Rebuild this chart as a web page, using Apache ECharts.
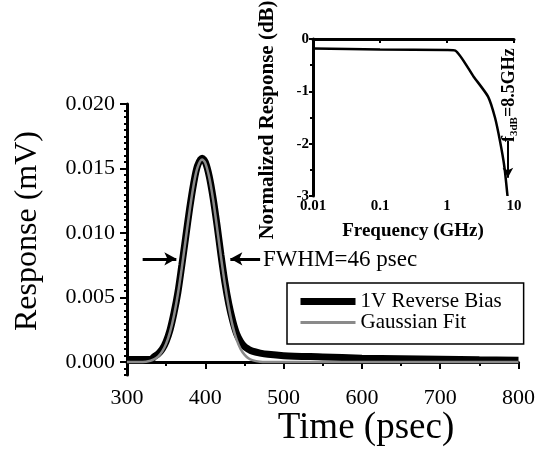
<!DOCTYPE html>
<html>
<head>
<meta charset="utf-8">
<script src="https://cdn.jsdelivr.net/npm/echarts@6/dist/echarts.min.js"></script>
</head>
<body style="margin:0;background:#fff;">
<div id="container" style="width:538px;height:449px;"></div>
<script type="text/javascript">
// main pulse: measured response (1V reverse bias)
var timePs = [300, 310, 320, 330, 335, 340, 345, 350, 355, 360, 365, 370, 375, 380, 385, 390, 396,
    400, 405, 410, 415, 420, 425, 430, 435, 440, 445, 450, 455, 460, 470, 480, 500, 550, 600, 650, 700, 750, 800];
var responseMv = [0.0002, 0.0002, 0.0002, 0.0002, 0.00043, 0.00065, 0.001, 0.0016, 0.0025, 0.0038, 0.0054, 0.0075,
    0.0097, 0.0119, 0.0138, 0.0152, 0.0158, 0.0155, 0.0144, 0.0127, 0.0106, 0.0083, 0.0062, 0.0045, 0.0032,
    0.0022, 0.0016, 0.0012, 0.0010, 0.00085, 0.0007, 0.0006, 0.0005, 0.0004, 0.0003, 0.00026, 0.00022, 0.00018, 0.00015];
// gaussian fit
var fitTimePs = [300, 320, 330, 335, 340, 345, 350, 355, 360, 365, 370, 375, 380, 385, 390, 396, 400, 405,
    410, 415, 420, 425, 430, 435, 440, 445, 450, 455, 460, 470, 480, 500, 600, 800];
var fitMv = [0, 0.00001, 0.00011, 0.00023, 0.00045, 0.00083, 0.00143, 0.00234, 0.00361, 0.00528, 0.0073,
    0.00953, 0.01174, 0.01369, 0.01507, 0.0157, 0.01542, 0.01432, 0.01258, 0.01042, 0.00816, 0.00604,
    0.00424, 0.00279, 0.00174, 0.00103, 0.00058, 0.0003, 0.00015, 0.00003, 0.00001, 0, 0, 0];
// inset: frequency response
var freqGHz = [0.01, 0.1, 1, 1.33, 2.5, 4.1, 5.2, 6.2, 7.2, 8.0];
var normDb = [-0.18, -0.2, -0.21, -0.22, -0.72, -1.1, -1.5, -1.96, -2.45, -3.0];
var mainYTicks = [0, 0.005, 0.01, 0.015, 0.02];

function pairs(xs, ys) {
    var out = [];
    for (var i = 0; i < xs.length; i++) {
        out.push([xs[i], ys[i]]);
    }
    return out;
}

var serif = 'Liberation Serif';
var black = '#000';
var gray = '#8a8a8a';

var myChart = echarts.init(document.getElementById('container'));
var option = {
    animation: false,
    backgroundColor: '#fff',
    grid: [
        { left: 127, right: 19, top: 104, bottom: 74 },
        { left: 313, right: 24, top: 39, bottom: 253 }
    ],
    legend: {
        orient: 'vertical',
        left: 287,
        top: 283,
        padding: [8, 22, 11, 10],
        itemGap: 0,
        itemWidth: 55,
        itemHeight: 14,
        borderColor: black,
        borderWidth: 1.5,
        borderRadius: 0,
        textStyle: { fontFamily: serif, fontSize: 21, color: black, lineHeight: 19 },
        data: [
            { name: '1V Reverse Bias', itemStyle: { opacity: 0 }, lineStyle: { width: 7, color: black } },
            { name: 'Gaussian Fit', itemStyle: { opacity: 0 }, lineStyle: { width: 3, color: gray } }
        ]
    },
    xAxis: [
        {
            gridIndex: 0, type: 'value', min: 300, max: 800, interval: 100,
            axisLine: { show: true, lineStyle: { color: black, width: 3 } },
            axisTick: { show: true, length: 7, lineStyle: { width: 2, color: black } },
            minorTick: { show: true, splitNumber: 2, length: 4, lineStyle: { width: 2, color: black } },
            splitLine: { show: false },
            axisLabel: { fontFamily: serif, fontSize: 22, color: black, margin: 12 }
        },
        {
            gridIndex: 1, type: 'log', logBase: 10, min: 0.01, max: 10,
            axisLine: { show: true, lineStyle: { color: black, width: 3 } },
            axisTick: { show: true, length: 4, lineStyle: { width: 2, color: black } },
            minorTick: { show: true, splitNumber: 5, length: 2, lineStyle: { width: 1, color: black } },
            splitLine: { show: false },
            axisLabel: {
                fontFamily: serif, fontWeight: 'bold', fontSize: 15, color: black, margin: 3,
                formatter: function (v) { return String(v); }
            }
        }
    ],
    yAxis: [
        {
            gridIndex: 0, type: 'value', min: -0.001, max: 0.02,
            axisLine: { show: true, lineStyle: { color: black, width: 3 } },
            axisTick: { show: true, customValues: mainYTicks, length: 7, lineStyle: { width: 2, color: black } },
            splitLine: { show: false },
            axisLabel: {
                customValues: mainYTicks,
                fontFamily: serif, fontSize: 22, color: black, margin: 12,
                formatter: function (v) { return v.toFixed(3); }
            }
        },
        {
            gridIndex: 0, type: 'value', min: -0.001, max: 0.02, interval: 0.0005, position: 'left',
            axisLine: { show: false },
            axisTick: { show: true, length: 3, lineStyle: { width: 2, color: black } },
            splitLine: { show: false },
            axisLabel: { show: false }
        },
        {
            gridIndex: 1, type: 'value', min: -3, max: 0, interval: 1,
            axisLine: { show: true, lineStyle: { color: black, width: 3 } },
            axisTick: { show: true, length: 4, lineStyle: { width: 2, color: black } },
            minorTick: { show: true, splitNumber: 2, length: 3, lineStyle: { width: 2, color: black } },
            splitLine: { show: false },
            axisLabel: { fontFamily: serif, fontWeight: 'bold', fontSize: 15, color: black, margin: 4 }
        }
    ],
    series: [
        {
            name: '1V Reverse Bias', type: 'line', xAxisIndex: 0, yAxisIndex: 0,
            data: pairs(timePs, responseMv), symbol: 'none', smooth: 0.3,
            itemStyle: { color: black },
            lineStyle: { color: black, width: 7 },
            markLine: {
                silent: true,
                symbol: ['none', 'arrow'],
                symbolSize: [10, 12],
                lineStyle: { color: black, width: 3, type: 'solid' },
                label: { show: false },
                data: [
                    [{ coord: [320, 0.008] }, { coord: [363, 0.008] }],
                    [{ coord: [470, 0.008] }, { coord: [432, 0.008] }]
                ]
            }
        },
        {
            name: 'Gaussian Fit', type: 'line', xAxisIndex: 0, yAxisIndex: 0,
            data: pairs(fitTimePs, fitMv), symbol: 'none', smooth: 0.3,
            itemStyle: { color: gray },
            lineStyle: { color: gray, width: 2.5 }
        },
        {
            name: 'inset', type: 'line', xAxisIndex: 1, yAxisIndex: 2,
            data: pairs(freqGHz, normDb), symbol: 'none', smooth: 0.2,
            itemStyle: { color: black },
            lineStyle: { color: black, width: 2.5 },
            markLine: {
                silent: true,
                symbol: ['none', 'arrow'],
                symbolSize: [8, 10],
                lineStyle: { color: black, width: 2, type: 'solid' },
                label: { show: false },
                data: [[{ coord: [8.1, -1.95] }, { coord: [8.1, -2.65] }]]
            }
        }
    ],
    graphic: [
        {
            type: 'text', x: 28, y: 231, rotation: Math.PI / 2,
            style: { text: 'Response (mV)', fontFamily: serif, fontSize: 32, fill: black, align: 'center', verticalAlign: 'middle' }
        },
        {
            type: 'text', x: 366, y: 428,
            style: { text: 'Time (psec)', fontFamily: serif, fontSize: 37, fill: black, align: 'center', verticalAlign: 'middle' }
        },
        {
            type: 'text', x: 263, y: 260,
            style: { text: 'FWHM=46 psec', fontFamily: serif, fontSize: 23, fill: black, align: 'left', verticalAlign: 'middle' }
        },
        {
            type: 'text', x: 268, y: 120, rotation: Math.PI / 2,
            style: { text: 'Normalized Response (dB)', fontFamily: serif, fontWeight: 'bold', fontSize: 21, fill: black, align: 'center', verticalAlign: 'middle' }
        },
        {
            type: 'text', x: 413, y: 231,
            style: { text: 'Frequency (GHz)', fontFamily: serif, fontWeight: 'bold', fontSize: 19, fill: black, align: 'center', verticalAlign: 'middle' }
        },
        {
            type: 'text', x: 510, y: 142, rotation: Math.PI / 2,
            style: {
                text: '{f|f}{s|3dB}{f|=8.5GHz}',
                fill: black, align: 'left', verticalAlign: 'middle',
                rich: {
                    f: { fontFamily: serif, fontWeight: 'bold', fontSize: 18, verticalAlign: 'top' },
                    s: { fontFamily: serif, fontWeight: 'bold', fontSize: 11, verticalAlign: 'top', padding: [9, 0, 0, 0] }
                }
            }
        }
    ]
};
myChart.setOption(option);
</script>
</body>
</html>
